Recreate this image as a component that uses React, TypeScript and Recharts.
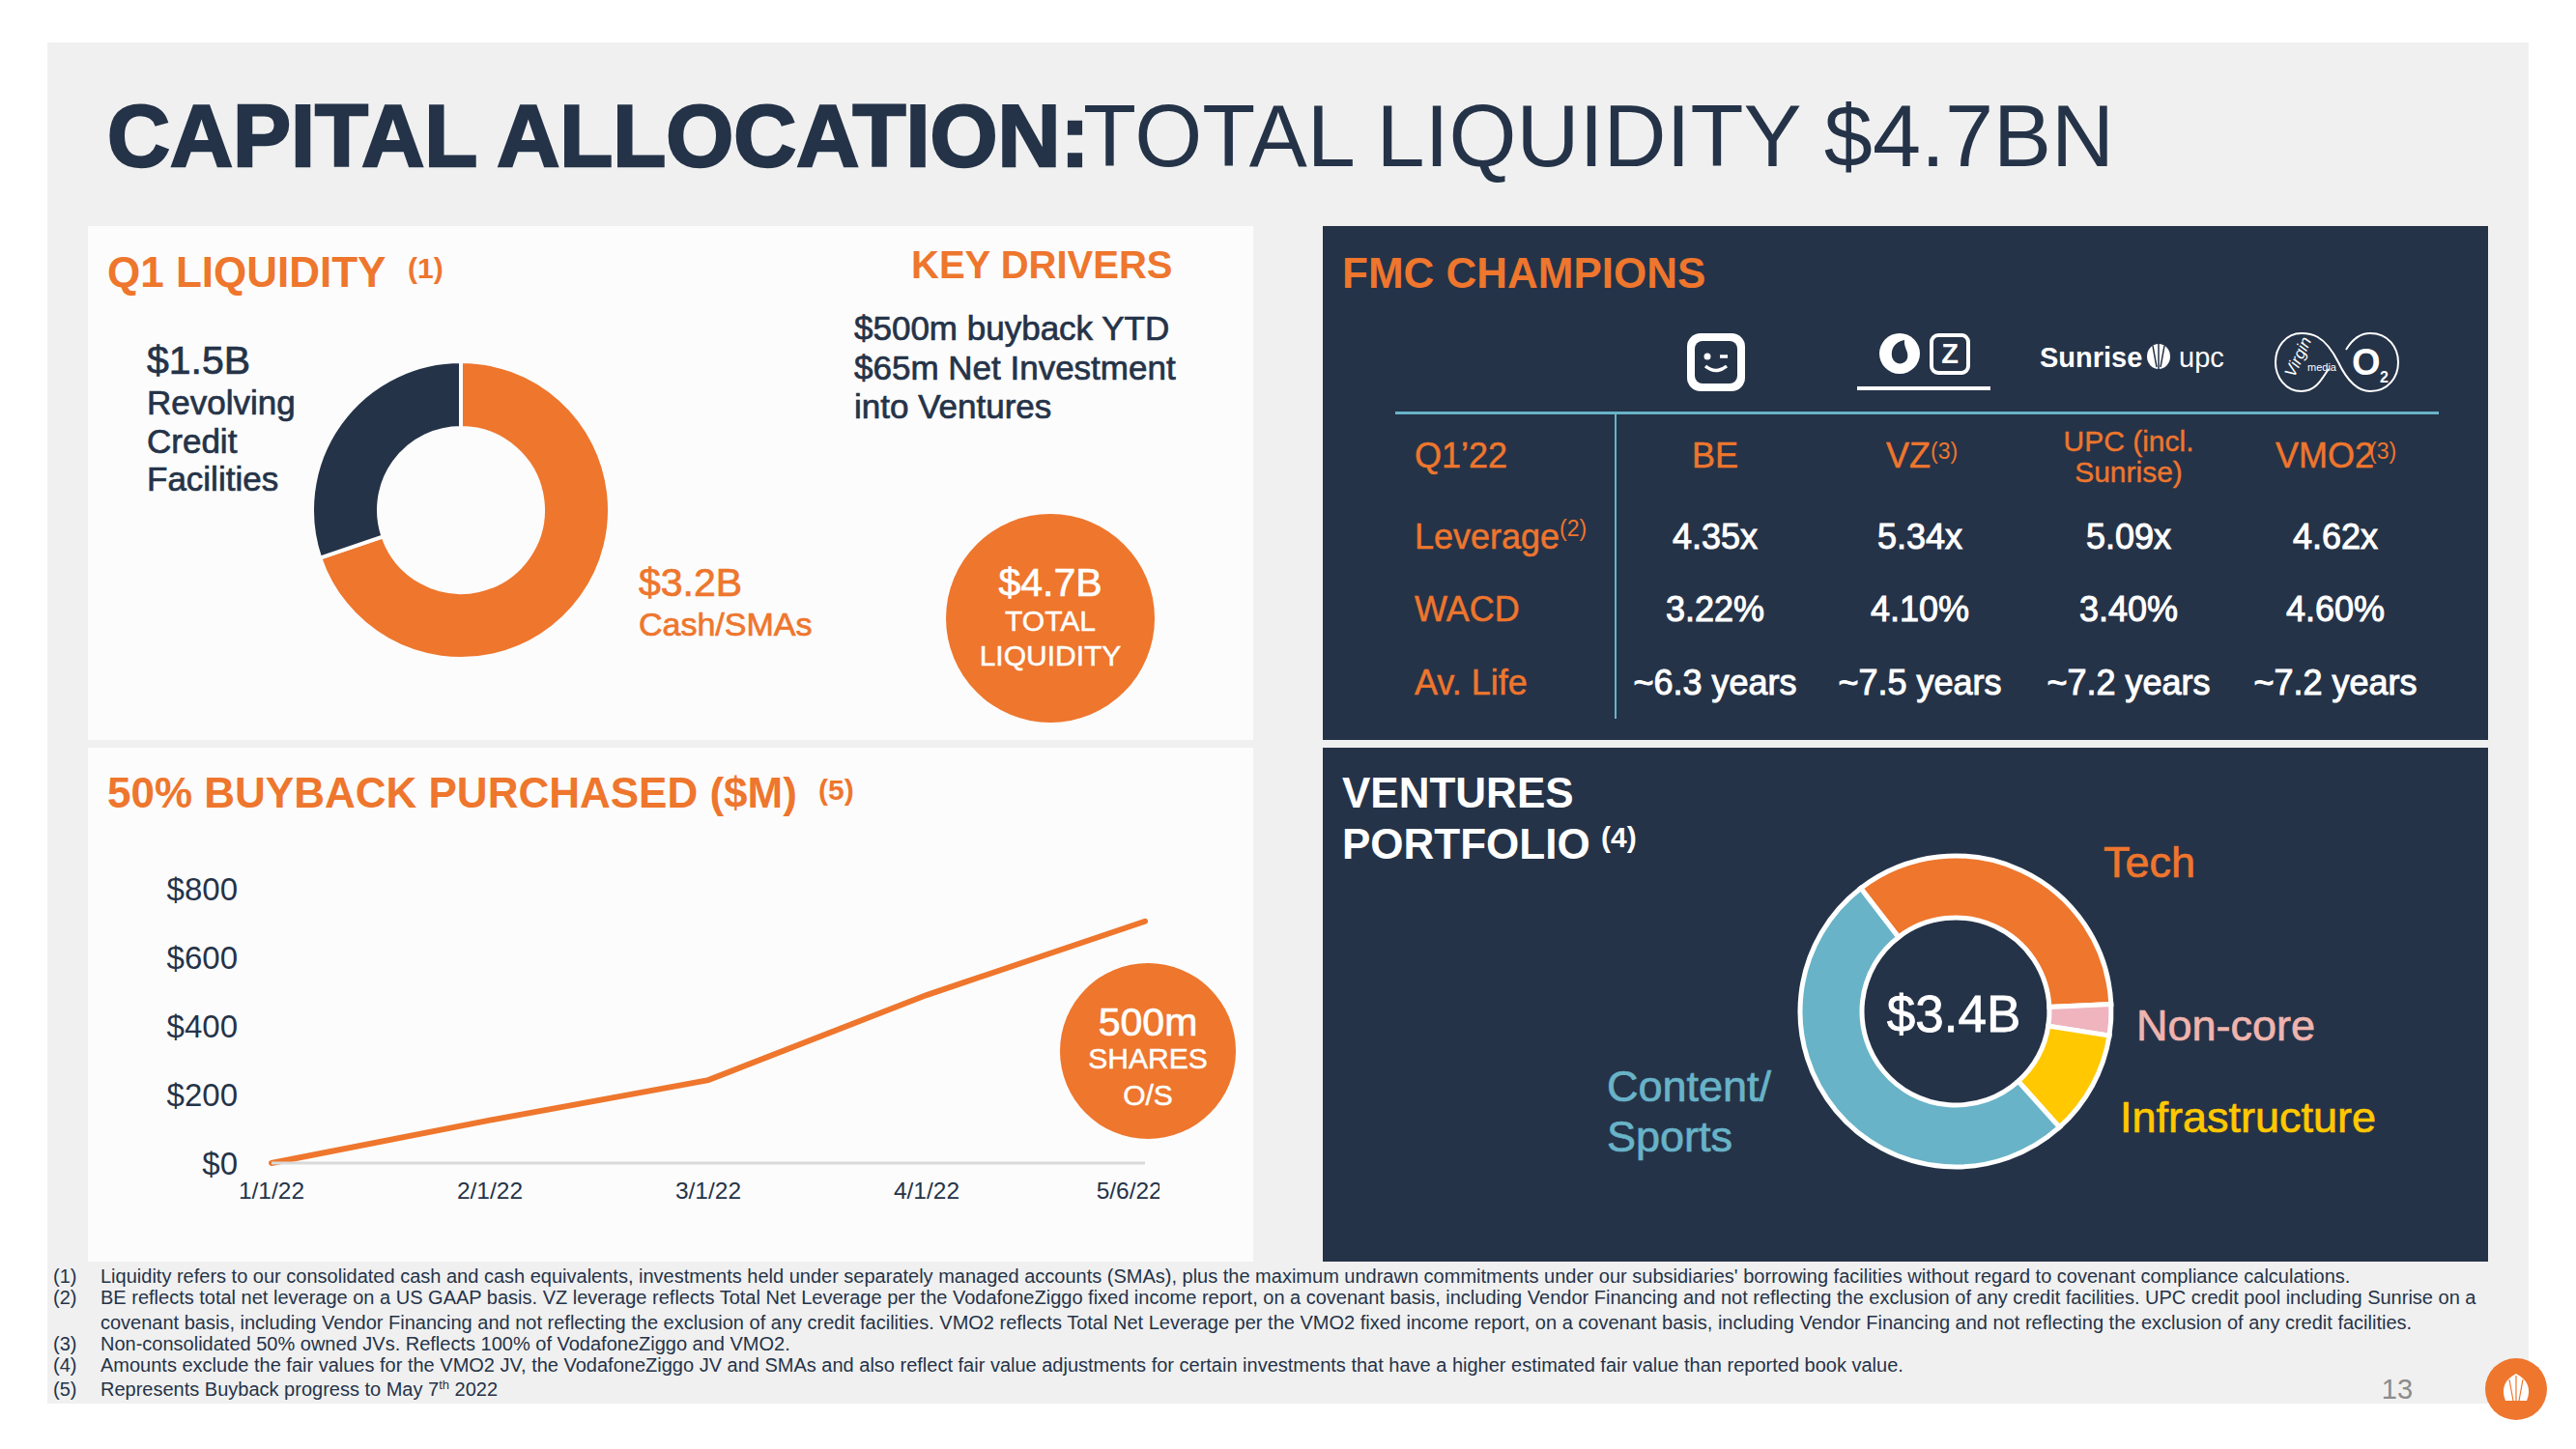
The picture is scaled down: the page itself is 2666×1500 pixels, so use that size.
import { LineChart, Line, XAxis, YAxis, PieChart, Pie } from "recharts";

const ORANGE = "#EE762D";
const NAVY = "#253348";
const TEAL = "#68B3C8";
const PAPER = "#FCFCFC";
const FONT = "'Liberation Sans', Arial, sans-serif";

// Q1 liquidity donut, sizes as drawn ($B)
const liquidityNames = ["Cash/SMAs", "Revolving Credit Facilities"];
const liquidityValues = [3.28, 1.42];
const liquidityColors = [ORANGE, NAVY];

// Ventures donut, sizes as drawn ($B)
const ventureNames = ["Tech", "Non-core", "Infrastructure", "Content/Sports"];
const ventureValues = [1.18, 0.11, 0.37, 1.74];
const ventureColors = [ORANGE, "#EFB4BE", "#FFC800", TEAL];

// Buyback line
const buybackDates = ["1/1/22", "2/1/22", "3/1/22", "4/1/22", "5/6/22"];
const buybackValues = [0, 125, 242, 490, 705];
const buybackTicks = [0, 200, 400, 600, 800];

// FMC table
const tableColumnX = [1775, 1987, 2203, 2417];
const leverageRow = ["4.35x", "5.34x", "5.09x", "4.62x"];
const wacdRow = ["3.22%", "4.10%", "3.40%", "4.60%"];
const lifeRow = ["~6.3 years", "~7.5 years", "~7.2 years", "~7.2 years"];

const footnotes = [
  ["(1)", "Liquidity refers to our consolidated cash and cash equivalents, investments held under separately managed accounts (SMAs), plus the maximum undrawn commitments under our subsidiaries' borrowing facilities without regard to covenant compliance calculations.", 1328],
  ["(2)", "BE reflects total net leverage on a US GAAP basis. VZ leverage reflects Total Net Leverage per the VodafoneZiggo fixed income report, on a covenant basis, including Vendor Financing and not reflecting the exclusion of any credit facilities. UPC credit pool including Sunrise on a", 1350],
  ["", "covenant basis, including Vendor Financing and not reflecting the exclusion of any credit facilities. VMO2 reflects Total Net Leverage per the VMO2 fixed income report, on a covenant basis, including Vendor Financing and not reflecting the exclusion of any credit facilities.", 1376],
  ["(3)", "Non-consolidated 50% owned JVs. Reflects 100% of VodafoneZiggo and VMO2.", 1398],
  ["(4)", "Amounts exclude the fair values for the VMO2 JV, the VodafoneZiggo JV and SMAs and also reflect fair value adjustments for certain investments that have a higher estimated fair value than reported book value.", 1420],
] as [string, string, number][];

const buybackData = buybackDates.map((date, i) => ({ date, value: buybackValues[i] }));
const liquidityData = liquidityNames.map((name, i) => ({
  name,
  value: liquidityValues[i],
  fill: liquidityColors[i],
}));
const ventureData = ventureNames.map((name, i) => ({
  name,
  value: ventureValues[i],
  fill: ventureColors[i],
}));

function T(props: {
  x: number;
  y: number;
  size: number;
  fill?: string;
  bold?: boolean;
  stroke?: number;
  anchor?: "start" | "middle" | "end";
  children: React.ReactNode;
}) {
  const { x, y, size, fill = NAVY, bold, stroke = 0, anchor = "start", children } = props;
  return (
    <text
      x={x}
      y={y}
      fontSize={size}
      fontWeight={bold ? 700 : 400}
      fill={fill}
      stroke={stroke ? fill : "none"}
      strokeWidth={stroke}
      textAnchor={anchor}
    >
      {children}
    </text>
  );
}

function Logos() {
  return (
    <g>
      {/* telenet */}
      <rect x={1746} y={345} width={60} height={60} rx={14} fill="#fff" />
      <rect x={1754} y={353} width={44} height={44} rx={8} fill={NAVY} />
      <circle cx={1767} cy={369} r={3.5} fill="#fff" />
      <path d="M1780 369 h8" stroke="#fff" strokeWidth={3.5} />
      <path d="M1765 379 Q1776 388 1787 379" stroke="#fff" strokeWidth={3.5} fill="none" />
      {/* vodafone + ziggo */}
      <circle cx={1966} cy={366} r={21} fill="#fff" />
      <path d="M1971 352 C1960 354 1957 362 1958 369 C1960 378 1971 379 1974 371 C1976 364 1970 360 1971 352 Z" fill={NAVY} />
      <rect x={1999} y={347} width={38} height={39} rx={7} fill="none" stroke="#fff" strokeWidth={4} />
      <text x={2018} y={376} fontSize={29} fontWeight={700} fill="#fff" textAnchor="middle">Z</text>
      <rect x={1922} y={400} width={138} height={4} fill="#fff" />
      {/* sunrise upc */}
      <T x={2111} y={380} size={29} fill="#fff" bold>Sunrise</T>
      <ellipse cx={2234} cy={369} rx={12} ry={13} fill="#fff" />
      <path d="M2234 356 V382 M2228 358 L2232 380 M2240 358 L2236 380" stroke={NAVY} strokeWidth={1.5} />
      <T x={2255} y={380} size={29} fill="#fff">upc</T>
      {/* virgin media + o2 */}
      <path
        d="M2420 375 C2405 345 2390 345 2382 345 C2365 345 2355 360 2355 375 C2355 390 2365 405 2382 405 C2398 405 2404 390 2410 382 M2420 375 C2432 400 2445 405 2453 405 C2472 405 2482 390 2482 375 C2482 360 2472 345 2453 345 C2442 345 2434 352 2428 362"
        fill="none"
        stroke="#fff"
        strokeWidth={2}
      />
      <text x={2362} y={384} fontSize={17} fontStyle="italic" fill="#fff" transform="rotate(-65 2374 378)">Virgin</text>
      <T x={2388} y={384} size={11} fill="#fff">media</T>
      <T x={2434} y={388} size={38} fill="#fff" bold>O</T>
      <T x={2463} y={396} size={16} fill="#fff" bold>2</T>
    </g>
  );
}

export default function App() {
  return (
    <div style={{ position: "absolute", left: 0, top: 0, width: 2666, height: 1500, background: "#fff", fontFamily: FONT, overflow: "hidden" }}>
      <svg width={2666} height={1500} style={{ position: "absolute", left: 0, top: 0 }}>
        <rect x={49} y={44} width={2568} height={1409} fill="#F0F0F0" />
        <rect x={91} y={234} width={1206} height={532} fill={PAPER} />
        <rect x={91} y={774} width={1206} height={532} fill={PAPER} />
        <rect x={1369} y={234} width={1206} height={532} fill={NAVY} />
        <rect x={1369} y={774} width={1206} height={532} fill={NAVY} />
      </svg>

      <div style={{ position: "absolute", left: 307, top: 358 }}>
        <PieChart width={340} height={340} margin={{ top: 0, right: 0, bottom: 0, left: 0 }}>
          <Pie
            data={liquidityData}
            dataKey="value"
            nameKey="name"
            cx={170}
            cy={170}
            innerRadius={85}
            outerRadius={154}
            startAngle={90}
            endAngle={-270}
            stroke={PAPER}
            strokeWidth={4}
            isAnimationActive={false}
          />
        </PieChart>
      </div>

      <div style={{ position: "absolute", left: 1834, top: 857 }}>
        <PieChart width={380} height={380} margin={{ top: 0, right: 0, bottom: 0, left: 0 }}>
          <Pie
            data={ventureData}
            dataKey="value"
            nameKey="name"
            cx={190}
            cy={190}
            innerRadius={97}
            outerRadius={161}
            startAngle={127.6}
            endAngle={-232.4}
            stroke="#fff"
            strokeWidth={5}
            isAnimationActive={false}
          />
        </PieChart>
      </div>

      <div style={{ position: "absolute", left: 100, top: 890 }}>
        <LineChart width={1100} height={400} data={buybackData} margin={{ top: 30, right: 15, bottom: 26, left: 0 }}>
          <XAxis
            dataKey="date"
            height={60}
            tickLine={false}
            axisLine={{ stroke: "#D9D9D9", strokeWidth: 3 }}
            tick={{ fill: NAVY, fontSize: 24.5, fontFamily: FONT }}
            tickMargin={14}
          />
          <YAxis
            width={181}
            domain={[0, 800]}
            ticks={buybackTicks}
            axisLine={false}
            tickLine={false}
            tick={{ fill: NAVY, fontSize: 33, fontFamily: FONT }}
            tickMargin={29}
            tickFormatter={(v: number) => `$${v}`}
          />
          <Line
            type="linear"
            dataKey="value"
            stroke={ORANGE}
            strokeWidth={6}
            strokeLinecap="round"
            dot={false}
            isAnimationActive={false}
          />
        </LineChart>
      </div>

      <svg width={2666} height={1500} style={{ position: "absolute", left: 0, top: 0, fontFamily: FONT }}>
        {/* title */}
        <text x={111} y={172} fontSize={90} fontWeight={700} fill={NAVY} stroke={NAVY} strokeWidth={2.5}>CAPITAL ALLOCATION:</text>
        <T x={1121} y={172} size={90}>TOTAL LIQUIDITY $4.7BN</T>

        {/* Q1 liquidity */}
        <T x={111} y={297} size={44} fill={ORANGE} bold>Q1 LIQUIDITY</T>
        <T x={422} y={288} size={30} fill={ORANGE} bold>(1)</T>
        <T x={943} y={288} size={40} fill={ORANGE} bold>KEY DRIVERS</T>
        <T x={884} y={352} size={35} stroke={0.7}>$500m buyback YTD</T>
        <T x={884} y={393} size={35} stroke={0.7}>$65m Net Investment</T>
        <T x={884} y={433} size={35} stroke={0.7}>into Ventures</T>
        <T x={152} y={387} size={41} stroke={0.7}>$1.5B</T>
        <T x={152} y={429} size={35} stroke={0.7}>Revolving</T>
        <T x={152} y={469} size={35} stroke={0.7}>Credit</T>
        <T x={152} y={508} size={35} stroke={0.7}>Facilities</T>
        <T x={661} y={617} size={41} fill={ORANGE} stroke={0.7}>$3.2B</T>
        <T x={661} y={658} size={34} fill={ORANGE} stroke={0.7}>Cash/SMAs</T>
        <circle cx={1087} cy={640} r={108} fill={ORANGE} />
        <T x={1087} y={617} size={41} fill="#fff" anchor="middle" stroke={0.7}>$4.7B</T>
        <T x={1087} y={653} size={30} fill="#fff" anchor="middle" stroke={0.5}>TOTAL</T>
        <T x={1087} y={689} size={30} fill="#fff" anchor="middle" stroke={0.5}>LIQUIDITY</T>

        {/* buyback */}
        <T x={111} y={836} size={44} fill={ORANGE} bold>50% BUYBACK PURCHASED ($M)</T>
        <T x={847} y={828} size={30} fill={ORANGE} bold>(5)</T>
        <circle cx={1188} cy={1088} r={91} fill={ORANGE} />
        <T x={1188} y={1072} size={41} fill="#fff" anchor="middle" stroke={0.7}>500m</T>
        <T x={1188} y={1106} size={30} fill="#fff" anchor="middle" stroke={0.5}>SHARES</T>
        <T x={1188} y={1144} size={30} fill="#fff" anchor="middle" stroke={0.5}>O/S</T>

        {/* FMC table */}
        <T x={1389} y={298} size={44} fill={ORANGE} bold>FMC CHAMPIONS</T>
        <Logos />
        <rect x={1444} y={426} width={1080} height={3} fill={TEAL} />
        <rect x={1671} y={429} width={2} height={315} fill={TEAL} />
        <T x={1464} y={484} size={36} fill={ORANGE} stroke={0.5}>Q1’22</T>
        <T x={1464} y={568} size={36} fill={ORANGE} stroke={0.5}>Leverage</T>
        <T x={1614} y={555} size={23} fill={ORANGE}>(2)</T>
        <T x={1464} y={643} size={36} fill={ORANGE} stroke={0.5}>WACD</T>
        <T x={1464} y={719} size={36} fill={ORANGE} stroke={0.5}>Av. Life</T>
        <T x={tableColumnX[0]} y={484} size={36} fill={ORANGE} anchor="middle" stroke={0.5}>BE</T>
        <T x={1952} y={484} size={36} fill={ORANGE} stroke={0.5}>VZ</T>
        <T x={1998} y={475} size={23} fill={ORANGE}>(3)</T>
        <T x={tableColumnX[2]} y={467} size={30} fill={ORANGE} anchor="middle" stroke={0.4}>UPC (incl.</T>
        <T x={tableColumnX[2]} y={499} size={30} fill={ORANGE} anchor="middle" stroke={0.4}>Sunrise)</T>
        <T x={2355} y={484} size={36} fill={ORANGE} stroke={0.5}>VMO2</T>
        <T x={2452} y={475} size={23} fill={ORANGE}>(3)</T>
        {tableColumnX.map((x, i) => (
          <g key={x}>
            <T x={x} y={568} size={36} fill="#fff" anchor="middle" stroke={1}>{leverageRow[i]}</T>
            <T x={x} y={643} size={36} fill="#fff" anchor="middle" stroke={1}>{wacdRow[i]}</T>
            <T x={x} y={719} size={36} fill="#fff" anchor="middle" stroke={1}>{lifeRow[i]}</T>
          </g>
        ))}

        {/* ventures */}
        <T x={1389} y={836} size={44} fill="#fff" bold>VENTURES</T>
        <T x={1389} y={889} size={44} fill="#fff" bold>PORTFOLIO</T>
        <T x={1657} y={877} size={30} fill="#fff" bold>(4)</T>
        <T x={2022} y={1068} size={53} fill="#fff" anchor="middle" stroke={0.8}>$3.4B</T>
        <T x={2177} y={908} size={45} fill={ORANGE} stroke={0.7}>Tech</T>
        <T x={2211} y={1077} size={45} fill="#EFB4AE" stroke={0.7}>Non-core</T>
        <T x={2194} y={1172} size={45} fill="#FFC800" stroke={0.7}>Infrastructure</T>
        <T x={1663} y={1140} size={45} fill={TEAL} stroke={0.7}>Content/</T>
        <T x={1663} y={1192} size={45} fill={TEAL} stroke={0.7}>Sports</T>

        {/* footnotes */}
        {footnotes.map(([num, line, y]) => (
          <g key={y}>
            <T x={55} y={y} size={20}>{num}</T>
            <T x={104} y={y} size={20}>{line}</T>
          </g>
        ))}
        <T x={55} y={1445} size={20}>(5)</T>
        <text x={104} y={1445} fontSize={20} fill={NAVY}>
          Represents Buyback progress to May 7<tspan fontSize={13} dy={-7}>th</tspan><tspan dy={7}> 2022</tspan>
        </text>
        <T x={2481} y={1448} size={29} fill="#8C8C8C" anchor="middle">13</T>

        {/* brand badge */}
        <circle cx={2604} cy={1438} r={32} fill={ORANGE} />
        <path d="M2604 1422 C2616 1428 2620 1438 2615 1450 L2593 1450 C2588 1438 2592 1428 2604 1422 Z" fill="#fff" />
        <path d="M2604 1424 V1450 M2597 1428 L2601 1450 M2611 1428 L2607 1450" stroke={ORANGE} strokeWidth={1.2} />
      </svg>
    </div>
  );
}
